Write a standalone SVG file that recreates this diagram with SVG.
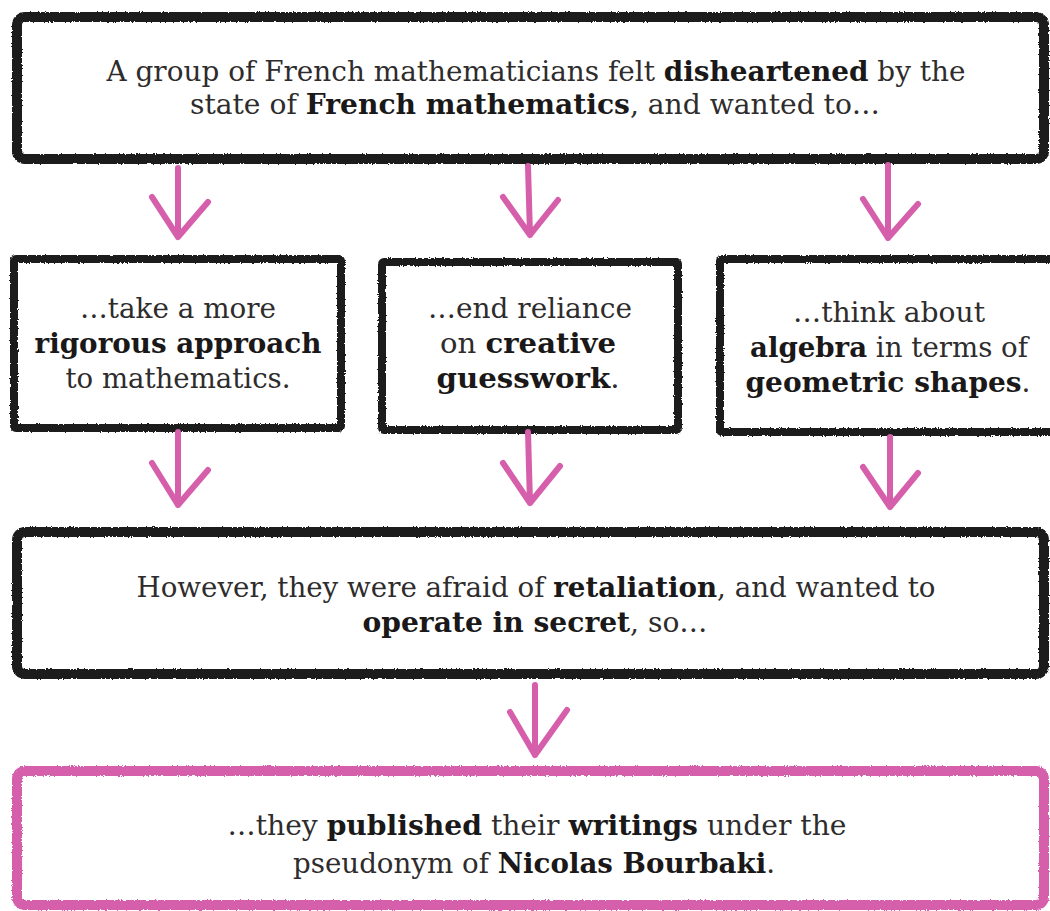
<svg xmlns="http://www.w3.org/2000/svg" width="1050" height="911" viewBox="0 0 1050 911">
<style>
.box{fill:#fff;stroke:#1c1a1a;stroke-width:10;filter:url(#rough)}
.mid{stroke-width:8}
.pink{stroke:#d65fab}
.arr{fill:none;stroke:#d65fab;stroke-width:6;stroke-linecap:round;stroke-linejoin:round}
text{font-family:"DejaVu Serif","Liberation Serif",serif;font-size:27.5px;fill:#2e2c2c;text-anchor:middle;font-weight:300}
.b{font-weight:bold;fill:#1a1818}
</style>
<defs>
<filter id="rough" x="-5%" y="-5%" width="110%" height="110%">
<feTurbulence type="fractalNoise" baseFrequency="0.6" numOctaves="2" seed="3" result="n"/>
<feDisplacementMap in="SourceGraphic" in2="n" scale="3" xChannelSelector="R" yChannelSelector="G"/>
</filter>
</defs>
<rect width="1050" height="911" fill="#fff"/>
<g id="node-top">
<rect class="box" x="17" y="17" width="1027" height="142" rx="8"/>
<text x="536" y="81" textLength="859" lengthAdjust="spacingAndGlyphs">A group of French mathematicians felt <tspan class="b">disheartened</tspan> by the</text>
<text x="535" y="114" textLength="690" lengthAdjust="spacingAndGlyphs">state of <tspan class="b">French mathematics</tspan>, and wanted to…</text>
</g>
<g id="node-rigorous">
<rect class="box mid" x="14" y="259" width="327" height="169" rx="2"/>
<text x="178" y="318" textLength="196" lengthAdjust="spacingAndGlyphs">…take a more</text>
<text x="178" y="353" textLength="287" lengthAdjust="spacingAndGlyphs" class="b">rigorous approach</text>
<text x="178" y="388" textLength="225" lengthAdjust="spacingAndGlyphs">to mathematics.</text>
</g>
<g id="node-creative">
<rect class="box mid" x="382" y="262" width="296" height="168" rx="2"/>
<text x="530" y="318" textLength="204" lengthAdjust="spacingAndGlyphs">…end reliance</text>
<text x="528" y="353" textLength="176" lengthAdjust="spacingAndGlyphs">on <tspan class="b">creative</tspan></text>
<text x="528" y="388" textLength="183" lengthAdjust="spacingAndGlyphs"><tspan class="b">guesswork</tspan>.</text>
</g>
<g id="node-algebra">
<rect class="box mid" x="720" y="259" width="340" height="173" rx="2"/>
<text x="889" y="322" textLength="192" lengthAdjust="spacingAndGlyphs">…think about</text>
<text x="889" y="357" textLength="278" lengthAdjust="spacingAndGlyphs"><tspan class="b">algebra</tspan> in terms of</text>
<text x="888" y="392" textLength="285" lengthAdjust="spacingAndGlyphs"><tspan class="b">geometric shapes</tspan>.</text>
</g>
<g id="node-however">
<rect class="box" x="17" y="532" width="1027" height="142" rx="8"/>
<text x="536" y="597" textLength="799" lengthAdjust="spacingAndGlyphs">However, they were afraid of <tspan class="b">retaliation</tspan>, and wanted to</text>
<text x="535" y="632" textLength="345" lengthAdjust="spacingAndGlyphs"><tspan class="b">operate in secret</tspan>, so…</text>
</g>
<g id="node-bourbaki">
<rect class="box pink" x="17" y="771" width="1027" height="134" rx="8"/>
<text x="537" y="835" textLength="619" lengthAdjust="spacingAndGlyphs">…they <tspan class="b">published</tspan> their <tspan class="b">writings</tspan> under the</text>
<text x="534" y="873" textLength="482" lengthAdjust="spacingAndGlyphs">pseudonym of <tspan class="b">Nicolas Bourbaki</tspan>.</text>
</g>
<g id="connectors">
<path class="arr" d="M178 168 L178 237 M152 197 L178 237 L208 202"/>
<path class="arr" d="M528 166 L530 235 M503 197 L530 235 L558 200"/>
<path class="arr" d="M888 165 L888 238 M863 199 L888 238 L918 204"/>
<path class="arr" d="M178 432 L178 505 M152 463 L178 505 L208 470"/>
<path class="arr" d="M528 432 L530 503 M503 463 L530 503 L560 466"/>
<path class="arr" d="M890 437 L890 507 M863 467 L890 507 L918 473"/>
<path class="arr" d="M535 685 L535 755 M510 712 L535 755 L567 710"/>
</g>
</svg>
